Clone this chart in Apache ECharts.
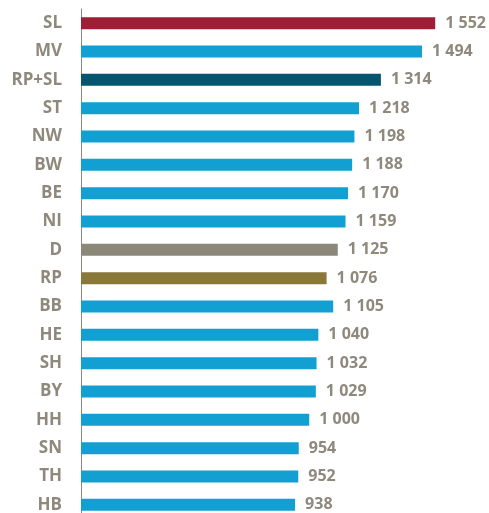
<!DOCTYPE html>
<html>
<head>
<meta charset="utf-8">
<script src="https://cdn.jsdelivr.net/npm/echarts@6/dist/echarts.min.js"></script>
<style>
  html, body { margin: 0; padding: 0; background: #fff; }
  #chart { width: 489px; height: 513px; }
</style>
</head>
<body>
<div id="chart"></div>
<script>
// Länder (von oben nach unten) und Werte
var categories = ['SL', 'MV', 'RP+SL', 'ST', 'NW', 'BW', 'BE', 'NI', 'D', 'RP', 'BB', 'HE', 'SH', 'BY', 'HH', 'SN', 'TH', 'HB'];
var values = [1552, 1494, 1314, 1218, 1198, 1188, 1170, 1159, 1125, 1076, 1105, 1040, 1032, 1029, 1000, 954, 952, 938];

// Sonderfarben, alle anderen hellblau
var specialColors = {
    'SL': '#9e1e35',
    'RP+SL': '#04566f',
    'D': '#8b887a',
    'RP': '#8a7838'
};
var defaultColor = '#12a0d2';
var textColor = '#8e897c';

var chart = echarts.init(document.getElementById('chart'));

chart.setOption({
    animation: false,
    grid: {
        left: 81,
        right: 20,
        top: 9,
        height: 510,
        containLabel: false,
        outerBoundsMode: 'none'
    },
    xAxis: {
        type: 'value',
        min: 0,
        max: 1700,
        show: false
    },
    yAxis: {
        type: 'category',
        inverse: true,
        data: categories,
        axisLine: {
            show: true,
            lineStyle: { color: '#8a8a80', width: 1 }
        },
        axisTick: { show: false },
        axisLabel: {
            margin: 19,
            color: textColor,
            fontFamily: 'Open Sans',
            fontWeight: 'bold',
            fontSize: 17
        }
    },
    series: [{
        type: 'bar',
        barWidth: 12,
        data: values.map(function (v, i) {
            return {
                value: v,
                itemStyle: { color: specialColors[categories[i]] || defaultColor }
            };
        }),
        label: {
            show: true,
            position: 'right',
            distance: 10,
            color: textColor,
            fontFamily: 'Open Sans',
            fontWeight: 'bold',
            fontSize: 16,
            formatter: function (p) {
                return String(p.value).replace(/\B(?=(\d{3})+(?!\d))/g, ' ');
            }
        }
    }]
});
</script>
</body>
</html>
